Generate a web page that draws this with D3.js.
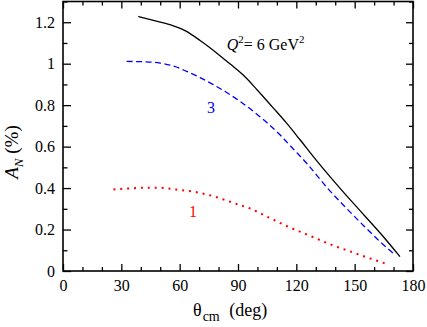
<!DOCTYPE html>
<html>
<head>
<meta charset="utf-8">
<script src="https://cdn.jsdelivr.net/npm/d3@7"></script>
<style>
  body { margin: 0; background: #fff; }
  svg { display: block; font-family: "Liberation Serif", "Times New Roman", serif; }
  svg text { font-family: "Liberation Serif", "Times New Roman", serif; }
</style>
</head>
<body>
<div id="chart"></div>
<script>
// Curve data (theta in deg, A_N in %)
const solidTheta = [38.7, 47, 55, 63, 70.5, 79, 86, 92.7, 100, 108.2, 115, 121.9, 130, 137.3, 145, 155, 165, 173.3];
const solidAN    = [1.228, 1.208, 1.188, 1.158, 1.112, 1.052, 0.998, 0.945, 0.872, 0.786, 0.713, 0.633, 0.537, 0.455, 0.372, 0.268, 0.163, 0.069];

const dashedTheta = [32.7, 42, 50, 57, 63.6, 70.5, 77.3, 84, 90.2, 97.9, 104.7, 111.6, 118, 125.3, 136, 145, 155, 163, 169.9];
const dashedAN    = [1.011, 1.009, 1.003, 0.988, 0.963, 0.933, 0.899, 0.862, 0.824, 0.770, 0.717, 0.657, 0.593, 0.52, 0.40, 0.31, 0.215, 0.142, 0.085];

const dottedTheta = [25.9, 35, 43.9, 50.8, 58, 68.8, 79, 89, 95.8, 105, 115, 125, 138.2, 146, 155.3, 165.6];
const dottedAN    = [0.393, 0.399, 0.402, 0.401, 0.393, 0.380, 0.356, 0.324, 0.303, 0.262, 0.217, 0.178, 0.126, 0.100, 0.069, 0.037];

const xMajorTicks = [0, 30, 60, 90, 120, 150, 180];
const xMinorTicks = [10, 20, 40, 50, 70, 80, 100, 110, 130, 140, 160, 170];
const yMajorTicks = [0, 0.2, 0.4, 0.6, 0.8, 1, 1.2];
const yMinorTicks = [0.1, 0.3, 0.5, 0.7, 0.9, 1.1, 1.3];

const width = 427, height = 327;
const margin = {top: 1.5, right: 14, bottom: 56, left: 63};
const innerWidth = width - margin.left - margin.right;
const innerHeight = height - margin.top - margin.bottom;
const serif = '"Liberation Serif", "Times New Roman", serif';

const svg = d3.select('#chart').append('svg')
    .attr('width', width)
    .attr('height', height);

const g = svg.append('g')
    .attr('transform', `translate(${margin.left},${margin.top})`);

const x = d3.scaleLinear().domain([0, 180]).range([0, innerWidth]);
const y = d3.scaleLinear().domain([0, 1.3]).range([innerHeight, 0]);

// axes: ticks pointing inward on all four sides
function styleAxis(sel) {
    sel.attr('font-family', serif).attr('font-size', 16);
    sel.select('.domain').remove();
    sel.selectAll('line').attr('stroke', '#000').attr('stroke-width', 1.3);
    // drop the empty labels of tick-only axes
    sel.selectAll('text').filter(function() { return this.textContent === ''; }).remove();
    sel.selectAll('text').attr('fill', '#000')
        .style('font-family', serif)
        .style('font-size', '16px');
}

g.append('g').attr('transform', `translate(0,${innerHeight})`)
    .call(d3.axisBottom(x).tickValues(xMajorTicks).tickSize(-7).tickPadding(9).tickFormat(d3.format('d')))
    .call(styleAxis);
g.append('g').attr('transform', `translate(0,${innerHeight})`)
    .call(d3.axisBottom(x).tickValues(xMinorTicks).tickSize(-4).tickFormat(''))
    .call(styleAxis);
g.append('g')
    .call(d3.axisTop(x).tickValues(xMajorTicks).tickSize(-7).tickFormat(''))
    .call(styleAxis);
g.append('g')
    .call(d3.axisTop(x).tickValues(xMinorTicks).tickSize(-4).tickFormat(''))
    .call(styleAxis);

g.append('g')
    .call(d3.axisLeft(y).tickValues(yMajorTicks).tickSize(-8).tickPadding(8).tickFormat(d3.format('')))
    .call(styleAxis);
g.append('g')
    .call(d3.axisLeft(y).tickValues(yMinorTicks).tickSize(-4.5).tickFormat(''))
    .call(styleAxis);
g.append('g').attr('transform', `translate(${innerWidth},0)`)
    .call(d3.axisRight(y).tickValues(yMajorTicks).tickSize(-7).tickFormat(''))
    .call(styleAxis);
g.append('g').attr('transform', `translate(${innerWidth},0)`)
    .call(d3.axisRight(y).tickValues(yMinorTicks).tickSize(-4).tickFormat(''))
    .call(styleAxis);

// frame
g.append('rect')
    .attr('x', 0).attr('y', 0)
    .attr('width', innerWidth).attr('height', innerHeight)
    .attr('fill', 'none')
    .attr('stroke', '#000')
    .attr('stroke-width', 1.6);

// curves
const line = d3.line()
    .x(d => x(d[0]))
    .y(d => y(d[1]))
    .curve(d3.curveMonotoneX);

const curves = [
    {theta: solidTheta, an: solidAN, color: '#000', dash: null, w: 1.3},
    {theta: dashedTheta, an: dashedAN, color: '#0000ff', dash: '6,3.5', w: 1.3},
    {theta: dottedTheta, an: dottedAN, color: '#ff0000', dash: '2,4.9', w: 2}
];

curves.forEach(c => {
    g.append('path')
        .datum(c.theta.map((t, i) => [t, c.an[i]]))
        .attr('d', line)
        .attr('fill', 'none')
        .attr('stroke', c.color)
        .attr('stroke-width', c.w)
        .attr('stroke-dasharray', c.dash);
});

// annotations
const q = g.append('text')
    .attr('x', x(84.2)).attr('y', y(1.068))
    .style('font-size', '16px')
    .attr('fill', '#000');
q.append('tspan').style('font-style', 'italic').text('Q');
q.append('tspan').attr('dy', -7).style('font-size', '11px').text('2');
q.append('tspan').attr('dy', 7).text('= 6 GeV');
q.append('tspan').attr('dy', -7).style('font-size', '11px').text('2');

g.append('text')
    .attr('x', x(76.1)).attr('y', y(0.763))
    .attr('text-anchor', 'middle')
    .style('font-size', '16px')
    .attr('fill', '#0000ff')
    .text('3');

g.append('text')
    .attr('x', x(66.9)).attr('y', y(0.262))
    .attr('text-anchor', 'middle')
    .style('font-size', '16px')
    .attr('fill', '#ff0000')
    .text('1');

// axis titles
const xt = svg.append('text')
    .attr('x', 193).attr('y', 316)
    .style('font-size', '18px')
    .attr('fill', '#000');
xt.append('tspan').text('θ');
xt.append('tspan').attr('dx', 1).attr('dy', 4.5).style('font-size', '14px').text('cm');
xt.append('tspan').attr('dx', 5).attr('dy', -4.5).text(' (deg)');

const yt = svg.append('text')
    .attr('transform', 'translate(18,152) rotate(-90)')
    .attr('text-anchor', 'middle')
    .style('font-size', '19px')
    .attr('fill', '#000');
yt.append('tspan').style('font-style', 'italic').text('A');
yt.append('tspan').attr('dy', 5).style('font-size', '13px').style('font-style', 'italic').text('N');
yt.append('tspan').attr('dy', -5).text(' (%)');
</script>
</body>
</html>
